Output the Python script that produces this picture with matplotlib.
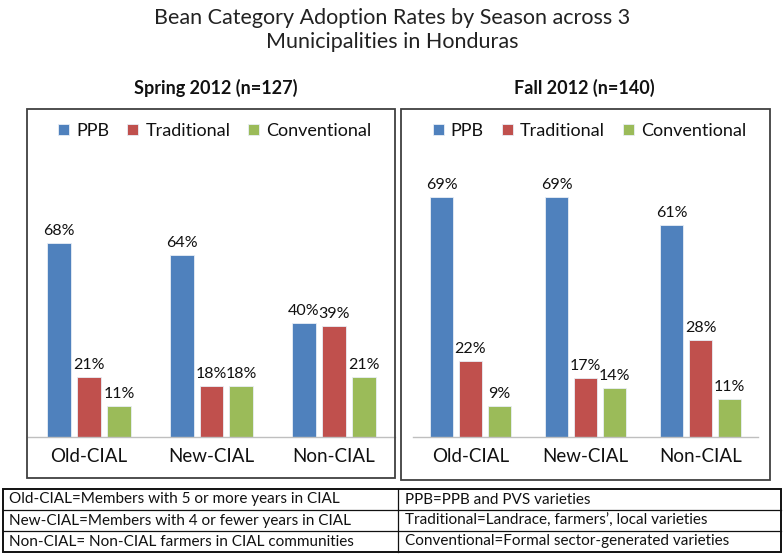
import matplotlib
matplotlib.use("Agg")
import matplotlib.pyplot as plt
from matplotlib.patches import Rectangle
from matplotlib.lines import Line2D
import numpy as np

plt.rcParams['font.family'] = ['Lato', 'DejaVu Sans']

categories = ["Old-CIAL", "New-CIAL", "Non-CIAL"]
series = ["PPB", "Traditional", "Conventional"]
spring_vals = {"PPB": [68, 64, 40], "Traditional": [21, 18, 39], "Conventional": [11, 18, 21]}
fall_vals = {"PPB": [69, 69, 61], "Traditional": [22, 17, 28], "Conventional": [9, 14, 11]}
colors = ["#4F81BD", "#C0504D", "#9BBB59"]
title_lines = "Bean Category Adoption Rates by Season across 3\nMunicipalities in Honduras"
panel_titles = ["Spring 2012 (n=127)", "Fall 2012 (n=140)"]
table_left = ["Old-CIAL=Members with 5 or more years in CIAL",
              "New-CIAL=Members with 4 or fewer years in CIAL",
              "Non-CIAL= Non-CIAL farmers in CIAL communities"]
table_right = ["PPB=PPB and PVS varieties",
               "Traditional=Landrace, farmers\u2019, local varieties",
               "Conventional=Formal sector-generated varieties"]

W, H = 784, 557
fig = plt.figure(figsize=(W / 100, H / 100), dpi=100)

def fx(px):
    return px / W

def fy(py):
    return 1 - py / H

def add_ax(x0, y0, x1, y1):
    return fig.add_axes([fx(x0), fy(y1), fx(x1) - fx(x0), fy(y0) - fy(y1)])

# Title
fig.text(fx(392), fy(30), title_lines, ha='center', va='center', fontsize=15.5,
         color='#222222', linespacing=1.3)

panels = [
    dict(vals=spring_vals, box=(27, 109, 395, 478), ax=(28, 152, 395, 437), ymax=100,
         width=0.196, step=0.245, title_x=216),
    dict(vals=fall_vals, box=(401, 109, 770, 480), ax=(413, 159, 758, 437), ymax=80,
         width=0.2, step=0.248, title_x=584),
]

for i, p in enumerate(panels):
    bx0, by0, bx1, by1 = p['box']
    fig.patches.append(Rectangle((fx(bx0), fy(by1)), fx(bx1) - fx(bx0), fy(by0) - fy(by1),
                                 transform=fig.transFigure, fill=False,
                                 edgecolor='#404040', linewidth=1.3))
    fig.text(fx(p['title_x']), fy(88), panel_titles[i], ha='center', va='center',
             fontsize=13, fontweight='bold', color='#111111')
    ax = add_ax(*p['ax'])
    x = np.arange(len(categories))
    handles = []
    for j, s in enumerate(series):
        xs = x + (j - 1) * p['step']
        bars = ax.bar(xs, p['vals'][s], width=p['width'], color=colors[j],
                      edgecolor='#E8EEF6', linewidth=0.6, label=s)
        handles.append(bars)
        for xi, v in zip(xs, p['vals'][s]):
            ax.annotate(f"{v}%", (xi, v), xytext=(0, 3.5), textcoords='offset points',
                        ha='center', va='bottom', fontsize=11.5, color='#111111')
    ax.set_xlim(-0.5, 2.5)
    ax.set_ylim(0, p['ymax'])
    for sp in ['top', 'right', 'left']:
        ax.spines[sp].set_visible(False)
    ax.spines['bottom'].set_color('#BFBFBF')
    ax.spines['bottom'].set_linewidth(1.0)
    ax.set_yticks([])
    ax.set_xticks(x)
    ax.set_xticklabels(categories, fontsize=13.5, color='#111111')
    ax.tick_params(axis='x', length=0, pad=8)
    ax.patch.set_alpha(0)
    leg = fig.legend(handles=handles, labels=series, loc='center',
                     bbox_to_anchor=(fx((bx0 + bx1) / 2 + 4), fy(131)), ncol=3, frameon=False,
                     fontsize=13, handlelength=0.6, handleheight=0.6, handletextpad=0.4,
                     columnspacing=1.0)
    for t in leg.get_texts():
        t.set_color('#111111')

# Legend table at bottom
tx0, tx1, tmid = 3, 781, 398
ty = [489, 510, 531, 552]
fig.patches.append(Rectangle((fx(tx0), fy(ty[-1])), fx(tx1) - fx(tx0), fy(ty[0]) - fy(ty[-1]),
                             transform=fig.transFigure, fill=False, edgecolor='#111111',
                             linewidth=1.4))
for yy in ty[1:-1]:
    fig.lines.append(Line2D([fx(tx0), fx(tx1)], [fy(yy), fy(yy)], transform=fig.transFigure,
                            color='#111111', linewidth=0.9))
fig.lines.append(Line2D([fx(tmid), fx(tmid)], [fy(ty[0]), fy(ty[-1])], transform=fig.transFigure,
                        color='#111111', linewidth=0.9))
for k in range(3):
    yc = (ty[k] + ty[k + 1]) / 2
    fig.text(fx(9), fy(yc), table_left[k], ha='left', va='center', fontsize=11, color='#111111')
    fig.text(fx(405), fy(yc), table_right[k], ha='left', va='center', fontsize=11, color='#111111')

fig.savefig("out.png", dpi=100)
